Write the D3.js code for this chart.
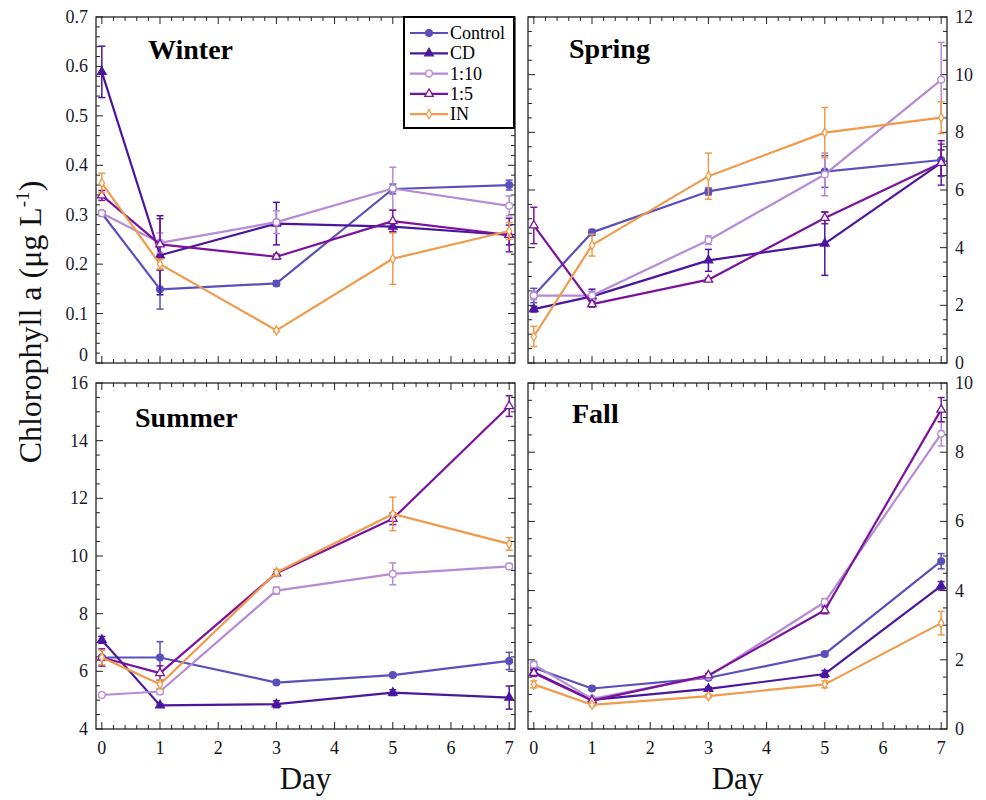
<!DOCTYPE html>
<html><head><meta charset="utf-8">
<script src="https://cdn.jsdelivr.net/npm/d3@7"></script>
<style>body{margin:0;background:#fff}svg{display:block}text{font-family:"Liberation Serif","Times New Roman",serif}</style>
</head><body><svg id="c" width="986" height="800"></svg>
<script>
const days = [0, 1, 3, 5, 7];
const seriesNames = ["Control", "CD", "1:10", "1:5", "IN"];
const seriesColors = ["#5a50bd", "#4b169f", "#b68ad6", "#7a129e", "#f19a4a"];
const seriesShapes = ["circle", "triangle", "circle", "triangle", "diamond"];
const seriesFilled = [true, true, false, false, false];
const xTickLabels = [0, 1, 2, 3, 4, 5, 6, 7];

const winterMean = [
  [0.303, 0.149, 0.161, 0.352, 0.360],
  [0.589, 0.218, 0.282, 0.276, 0.259],
  [0.303, 0.243, 0.285, 0.353, 0.318],
  [0.339, 0.240, 0.215, 0.287, 0.259],
  [0.364, 0.200, 0.066, 0.211, 0.267]];
const winterErr = [
  [0.005, 0.040, 0.005, 0.010, 0.010],
  [0.052, 0.080, 0.043, 0.010, 0.020],
  [0.005, 0.020, 0.023, 0.043, 0.020],
  [0.010, 0.052, 0.005, 0.022, 0.034],
  [0.020, 0.010, 0.003, 0.052, 0.017]];
const springMean = [
  [2.34, 4.53, 5.95, 6.64, 7.04],
  [1.87, 2.31, 3.56, 4.14, 6.94],
  [2.34, 2.34, 4.26, 6.54, 9.82],
  [4.77, 2.04, 2.89, 5.03, 6.94],
  [0.92, 4.09, 6.48, 7.99, 8.51]];
const springErr = [
  [0.25, 0.10, 0.12, 0.55, 0.55],
  [0.10, 0.25, 0.38, 1.10, 0.45],
  [0.15, 0.15, 0.15, 0.74, 1.30],
  [0.63, 0.10, 0.05, 0.20, 0.77],
  [0.35, 0.38, 0.80, 0.87, 0.55]];
const summerMean = [
  [6.48, 6.48, 5.61, 5.87, 6.36],
  [7.09, 4.82, 4.86, 5.26, 5.09],
  [5.18, 5.30, 8.80, 9.38, 9.64],
  [6.48, 5.94, 9.40, 11.29, 15.20],
  [6.48, 5.55, 9.43, 11.46, 10.42]];
const summerErr = [
  [0.05, 0.55, 0.05, 0.05, 0.30],
  [0.12, 0.05, 0.12, 0.10, 0.40],
  [0.05, 0.10, 0.12, 0.38, 0.10],
  [0.30, 0.25, 0.05, 0.20, 0.36],
  [0.25, 0.15, 0.10, 0.58, 0.22]];
const fallMean = [
  [1.77, 1.17, 1.48, 2.17, 4.85],
  [1.64, 0.84, 1.16, 1.59, 4.14],
  [1.86, 0.87, 1.52, 3.67, 8.53],
  [1.62, 0.82, 1.55, 3.43, 9.23],
  [1.29, 0.70, 0.95, 1.29, 3.06]];
const fallErr = [
  [0.05, 0.05, 0.05, 0.05, 0.22],
  [0.05, 0.05, 0.05, 0.10, 0.12],
  [0.10, 0.05, 0.05, 0.10, 0.35],
  [0.10, 0.05, 0.05, 0.10, 0.35],
  [0.10, 0.05, 0.05, 0.10, 0.34]];

const winterTicks = [0, 0.1, 0.2, 0.3, 0.4, 0.5, 0.6, 0.7];
const springTicks = [0, 2, 4, 6, 8, 10, 12];
const summerTicks = [4, 6, 8, 10, 12, 14, 16];
const fallTicks = [0, 2, 4, 6, 8, 10];

const panels = [
  {title: "Winter", mean: winterMean, err: winterErr, domain: [0, 0.7], ticks: winterTicks, minor: 0.02, side: "left", fmt: d => d === 0 ? "0" : d3.format(".1f")(d), box: [96, 17, 515, 363], tx: 148, ty: 59, xLabels: false, legend: true},
  {title: "Spring", mean: springMean, err: springErr, domain: [0, 12], ticks: springTicks, minor: 0.5, side: "right", fmt: d3.format("d"), box: [528, 17, 947, 363], tx: 569, ty: 58, xLabels: false},
  {title: "Summer", mean: summerMean, err: summerErr, domain: [4, 16], ticks: summerTicks, minor: 0.5, side: "left", fmt: d3.format("d"), box: [96, 383, 515, 729], tx: 135, ty: 427, xLabels: true},
  {title: "Fall", mean: fallMean, err: fallErr, domain: [0, 10], ticks: fallTicks, minor: 0.5, side: "right", fmt: d3.format("d"), box: [528, 383, 947, 729], tx: 572, ty: 423, xLabels: true}
];

const svg = d3.select("#c");
const sym = {circle: d3.symbolCircle, triangle: d3.symbolTriangle, diamond: d3.symbolDiamond};
const symSize = {circle: 36, triangle: 32, diamond: 24};

function rangeStep(a, b, s) { const out = []; for (let v = a; v <= b + 1e-9; v += s) out.push(+v.toFixed(6)); return out; }

panels.forEach((p, pi) => {
  const [x0, y0, x1, y1] = p.box;
  const x = d3.scaleLinear().domain([-0.1, 7.1]).range([x0, x1]);
  const y = d3.scaleLinear().domain(p.domain).range([y1, y0]);
  const g = svg.append("g");

  const majX = d3.range(0, 8, 1);
  const minX = rangeStep(0, 7, 0.2).filter(v => Math.abs(v - Math.round(v)) > 1e-6);
  const majY = p.ticks;
  const minY = rangeStep(p.domain[0], p.domain[1], p.minor).filter(v => !majY.some(m => Math.abs(m - v) < 1e-6));
  const tk = g.append("g").attr("stroke", "#222").attr("stroke-width", 1);
  [[majX, 7], [minX, 4]].forEach(([arr, L]) => {
    arr.forEach(v => {
      tk.append("line").attr("x1", x(v)).attr("x2", x(v)).attr("y1", y1).attr("y2", y1 - L);
      tk.append("line").attr("x1", x(v)).attr("x2", x(v)).attr("y1", y0).attr("y2", y0 + L);
    });
  });
  [[majY, 7], [minY, 4]].forEach(([arr, L]) => {
    arr.forEach(v => {
      tk.append("line").attr("y1", y(v)).attr("y2", y(v)).attr("x1", x0).attr("x2", x0 + L);
      tk.append("line").attr("y1", y(v)).attr("y2", y(v)).attr("x1", x1).attr("x2", x1 - L);
    });
  });

  g.append("rect").attr("x", x0).attr("y", y0).attr("width", x1 - x0).attr("height", y1 - y0)
    .attr("fill", "none").attr("stroke", "#222").attr("stroke-width", 1.3);

  majY.forEach((v, i) => {
    let yy = y(v) + 6;
    if (pi === 0 && i === 0) yy -= 8;
    g.append("text").attr("x", p.side === "left" ? x0 - 8 : x1 + 8).attr("y", yy)
      .attr("text-anchor", p.side === "left" ? "end" : "start")
      .attr("font-size", 18).attr("fill", "#1a1a2e").text(p.fmt(v));
  });
  if (p.xLabels) {
    xTickLabels.forEach(v => {
      g.append("text").attr("x", x(v)).attr("y", y1 + 25).attr("text-anchor", "middle")
        .attr("font-size", 18).attr("fill", "#111").text(v);
    });
    g.append("text").attr("x", (x0 + x1) / 2).attr("y", 789).attr("text-anchor", "middle")
      .attr("font-size", 31).attr("fill", "#111").text("Day");
  }

  g.append("text").attr("x", p.tx).attr("y", p.ty).attr("font-size", 28).attr("font-weight", "bold")
    .attr("fill", "#000").text(p.title);

  const line = d3.line().x((d, i) => x(days[i])).y(d => y(d));
  p.mean.forEach((vals, si) => {
    const col = seriesColors[si];
    const sg = g.append("g");
    vals.forEach((v, i) => {
      const e = p.err[si][i];
      const cx = x(days[i]);
      sg.append("line").attr("x1", cx).attr("x2", cx).attr("y1", y(v - e)).attr("y2", y(v + e)).attr("stroke", col).attr("stroke-width", 1.5);
      [v - e, v + e].forEach(w => sg.append("line").attr("x1", cx - 3.5).attr("x2", cx + 3.5).attr("y1", y(w)).attr("y2", y(w)).attr("stroke", col).attr("stroke-width", 1.5));
    });
    sg.append("path").attr("d", line(vals)).attr("fill", "none").attr("stroke", col).attr("stroke-width", 2.2).attr("stroke-linejoin", "round");
    vals.forEach((v, i) => {
      const sh = seriesShapes[si];
      sg.append("path").attr("d", d3.symbol().type(sym[sh]).size(symSize[sh])())
        .attr("transform", `translate(${x(days[i])},${y(v)})`)
        .attr("fill", seriesFilled[si] ? col : "#fff").attr("stroke", col).attr("stroke-width", 1.3);
    });
  });

  if (p.legend) {
    const lg = svg.append("g");
    lg.append("rect").attr("x", 404).attr("y", 17).attr("width", 110).attr("height", 111)
      .attr("fill", "#fff").attr("stroke", "#000").attr("stroke-width", 2);
    seriesNames.forEach((n, si) => {
      const yy = 33 + si * 20.3;
      const col = seriesColors[si];
      lg.append("line").attr("x1", 410).attr("x2", 448).attr("y1", yy).attr("y2", yy).attr("stroke", col).attr("stroke-width", 2.2);
      const sh = seriesShapes[si];
      lg.append("path").attr("d", d3.symbol().type(sym[sh]).size(symSize[sh])())
        .attr("transform", `translate(429,${yy})`)
        .attr("fill", seriesFilled[si] ? col : "#fff").attr("stroke", col).attr("stroke-width", 1.3);
      lg.append("text").attr("x", 450).attr("y", yy + 6).attr("font-size", 18).attr("fill", "#000").text(n);
    });
  }
});

svg.append("text").attr("transform", "translate(41,322) rotate(-90)").attr("text-anchor", "middle")
  .attr("font-size", 32).attr("fill", "#111")
  .html('Chlorophyll a (μg L<tspan dy="-12" font-size="19">-1</tspan><tspan dy="12">)</tspan>');
</script></body></html>
